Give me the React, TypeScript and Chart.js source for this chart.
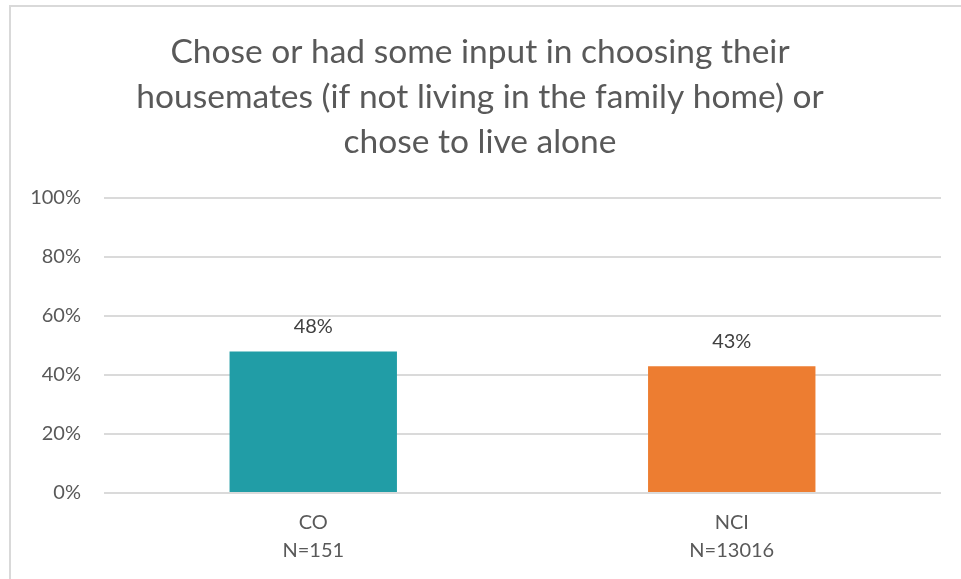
import React, { useEffect, useRef } from "react";
import { Chart, registerables } from "chart.js";

Chart.register(...registerables);

const titleLines = [
  "Chose or had some input in choosing their",
  "housemates (if not living in the family home) or",
  "chose to live alone",
];
const categories = [["CO", "N=151"], ["NCI", "N=13016"]];
const values = [48, 43];
const barColors = ["#219DA6", "#ED7D31"];
const yTicks = [0, 20, 40, 60, 80, 100];

const FONT = "Lato, 'Open Sans', sans-serif";

const valueLabels = {
  id: "valueLabels",
  afterDatasetsDraw(chart: any) {
    const ctx = chart.ctx;
    const meta = chart.getDatasetMeta(0);
    ctx.save();
    ctx.font = `20px ${FONT}`;
    ctx.fillStyle = "#404040";
    ctx.textAlign = "center";
    ctx.textBaseline = "middle";
    meta.data.forEach((bar: any, i: number) => {
      ctx.fillText(values[i] + "%", bar.x, bar.y - 25);
    });
    ctx.restore();
  },
};

export default function App() {
  const ref = useRef<HTMLCanvasElement>(null);
  useEffect(() => {
    if (!ref.current) return;
    const chart = new Chart(ref.current, {
      type: "bar",
      data: {
        labels: categories,
        datasets: [
          {
            data: values,
            backgroundColor: barColors,
            barPercentage: 0.4,
            categoryPercentage: 1,
          },
        ],
      },
      options: {
        responsive: false,
        animation: false,
        devicePixelRatio: 1,
        layout: { padding: { left: 19, right: 20, top: 0, bottom: 6 } },
        plugins: {
          legend: { display: false },
          tooltip: { enabled: false },
          title: {
            display: true,
            text: titleLines,
            color: "#595959",
            font: { family: FONT, size: 33.5, weight: "normal", lineHeight: 45 / 33.5 },
            padding: { top: 30, bottom: 33 },
          },
        },
        scales: {
          x: {
            grid: { display: false },
            border: { display: false },
            ticks: {
              color: "#595959",
              font: { family: FONT, size: 20, lineHeight: 1.4 },
              padding: 8,
              maxRotation: 0,
            },
          },
          y: {
            min: 0,
            max: 100,
            afterFit(scale: any) {
              scale.width = 85;
            },
            afterBuildTicks(scale: any) {
              scale.ticks = yTicks.map((v) => ({ value: v }));
            },
            grid: { color: "#DADADA", lineWidth: 2, drawTicks: false },
            border: { display: false },
            ticks: {
              color: "#595959",
              font: { family: FONT, size: 20 },
              padding: 23,
              callback: (v: any) => v + "%",
            },
          },
        },
      },
      plugins: [valueLabels],
    });
    return () => chart.destroy();
  }, []);

  return (
    <div style={{ position: "absolute", left: 0, top: 0, width: 961, height: 579, overflow: "hidden", background: "#fff" }}>
      <div
        style={{
          position: "absolute",
          left: 9,
          top: 5,
          width: 1100,
          height: 1100,
          border: "2px solid #D9D9D9",
        }}
      />
      <canvas ref={ref} width={961} height={579} style={{ position: "absolute", left: 0, top: 0 }} />
    </div>
  );
}
